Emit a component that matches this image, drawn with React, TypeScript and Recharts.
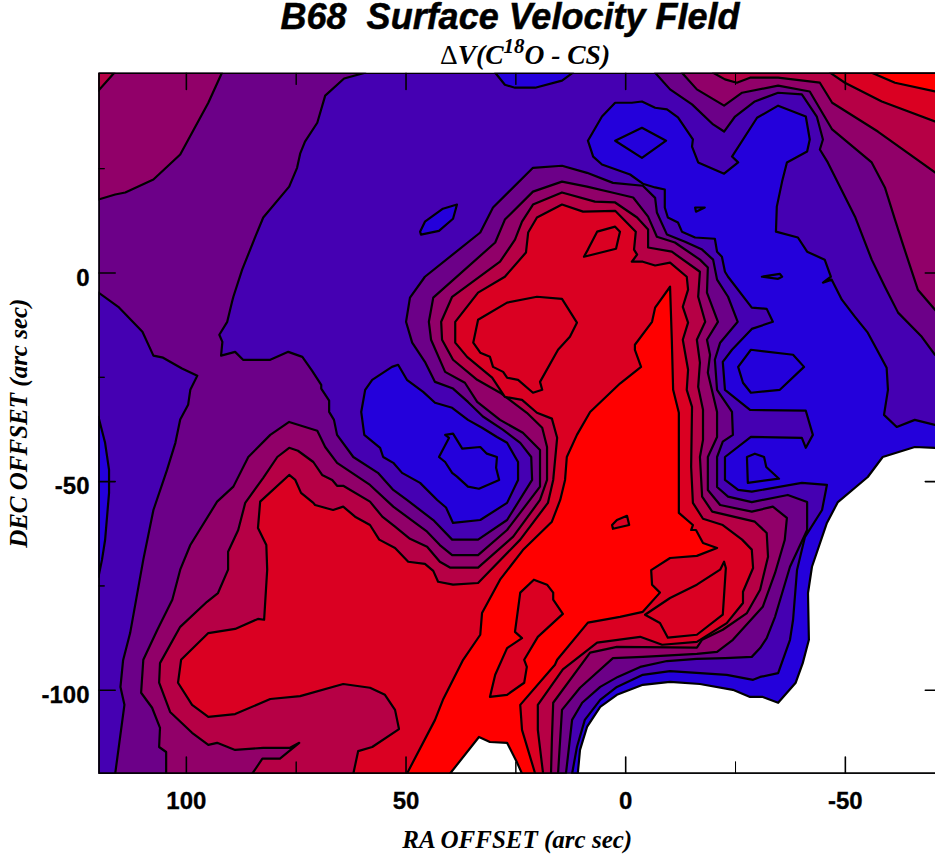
import { Scatter, ScatterChart, XAxis, YAxis } from "recharts";

type Pt = [number, number]; // [RA offset, DEC offset] in arc sec

const RA_TICKS = [100, 50, 0, -50];
const RA_MINOR = [75, 25, -25];
const DEC_TICKS = [0, -50, -100];
const DEC_MINOR = [25, -25, -75];

const LEVEL_COLORS = ["#2400db", "#4500b2", "#6c0088", "#910069", "#b60045", "#da0022", "#ff0000"];

const PLOT_AREA: Pt[] = [[120, 48], [-72, 48], [-72, -120], [120, -120]];

// contours
const L1_EAST: Pt[] = [
  [12.2,-120],[11.1,-113.6],[9.3,-107.1],[5.8,-102.3],[2,-99.2],[-3.9,-96.3],[-10.1,-95.4],[-23,-96.3],[-29,-97.5],[-30.6,-96.8],
  [-34.7,-95.9],[-37.4,-87.9],[-38.1,-83.1],[-39,-71.2],[-40.8,-63.3],[-44.7,-56.8],[-45.8,-50.8],[-40.1,-50.3],[-28.7,-52.4],[-25.6,-52],
  [-22.6,-49.6],[-22.6,-44.1],[-28.5,-39.3],[-40.1,-39.5],[-41,-41.9],[-42.6,-38.8],[-41,-33],[-28.3,-32.8],[-22.6,-28],[-22.1,-21.3],
  [-24.2,-18.4],[-28.7,-13.4],[-33.5,-11.7],[-32.1,-8.6],[-28.7,-8.3],[-23.3,-0.9],[-22.6,0.3],[-21.9,3.9],[-20.8,5.1],[-20.3,8.2],
  [-15.8,8.5],[-12.8,9.9],[-11.9,12.1],[-9.6,13.3],[-8.9,15.7],[-8.9,20],[-6.7,20.5],[-3.9,21.4],[-1,23.6],[5.4,26],
  [7.4,27.9],[8.6,31.7],[5.4,37.5],[2.4,40.8],[-1.4,40.8],[-3.7,41.1],[-6.7,39.6],[-9.4,39.2],[-11.9,37.3],[-15.3,32],
  [-15.1,30.3],[-16.5,26.5],[-22.4,23.8],[-25.6,26.5],[-24.2,27.9],[-29.9,37.2],[-34.7,40.1],[-41,37.5],[-41.9,32],[-41.3,29.1],
  [-36.7,26.5],[-35.6,21.9],[-34.4,15.9],[-34.2,9.9],[-39.2,8.5],[-41.3,5.1],[-45.3,3.2],[-46.7,-0.9],[-44.9,-2.3],[-46.9,-1.6],
  [-49.2,-6.4],[-52.2,-10.5],[-55.1,-14.3],[-57.2,-18.4],[-59.4,-22.7],[-59.7,-28],[-58.8,-34],[-61.7,-36.9],[-65.8,-35.2],[-70.4,-36.4],
  [-72,-36.6],[-72,-120],
];
const L1_TOP: Pt[] = [[29.7,48],[27.5,45.1],[25.2,44.4],[20.6,44.4],[14.5,46.1],[12,48]];
const L1_NW_SPOT: Pt[] = [[38.4,16.4],[41.6,15.4],[45.7,12.3],[46.8,9.9],[46.6,9.2],[42.5,10.1],[39.3,13]];
const L1_TONGUE: Pt[] = [
  [51.8,-22],[53.2,-22.5],[57.7,-25.6],[59.3,-28],[60.2,-33.3],[59.5,-38.8],[55.9,-41.9],[55.2,-44.1],[52.9,-45.5],[50.9,-47.9],
  [46.8,-50.3],[42.9,-54.4],[40.9,-56.2],[39.3,-59.9],[33.1,-59.2],[27,-55.1],[24.5,-49.6],[24.5,-45.3],[27,-40.7],[29.3,-39.3],
  [32.7,-37.1],[35.9,-35.2],[39.5,-32.3],[43.4,-31.1],[46.1,-28.5],[49.8,-25.6],
];
const L1_INNER: Pt[] = [
  [41.1,-38.8],[39.3,-38.5],[37.2,-42.1],[33.1,-41.7],[31.6,-43.3],[29.3,-44.1],[29.5,-46.7],[28.8,-49.6],[33.4,-51.7],[35.9,-51.2],
  [38.4,-48.8],[39.5,-47.9],[41.1,-45.3],[42.5,-44.1],[40.2,-39.5],
];
const L1_DIAMOND: Pt[] = [[2.4,31.7],[-3.7,34.8],[-9.2,31.7],[-3.7,27.6]];
const L1_EAST_OVAL: Pt[] = [[-28.5,-18.4],[-38.1,-19.6],[-40.6,-22.5],[-35.1,-28],[-28.5,-28.7],[-26.7,-26.3],[-25.6,-22.5]];
const L1_EAST_SPOT: Pt[] = [[-27.6,-44.1],[-29.4,-43.3],[-31.5,-44.1],[-32,-46.5],[-34.9,-49.3],[-27.8,-50.3]];
const L1_SPECK_A: Pt[] = [[-15.8,15.7],[-18,15.7],[-16,14.7]];
const L1_SPECK_B: Pt[] = [[-31,-0.9],[-35.1,-0.2],[-35.6,-0.9],[-34.7,-1.4]];

const L3_MAIN: Pt[] = [
  [59.3,48],[64.1,46.6],[68.4,42.5],[70.2,36],[73,31.5],[74.1,28.6],[74.8,25.2],[76.6,20.7],[82.5,13.3],[84.3,8.7],
  [87.3,0.8],[89.3,-5.7],[89.6,-6.9],[90.7,-11.7],[92.5,-14.8],[91.8,-16.5],[92.1,-19.8],[88.9,-18.9],[87.1,-20.8],[80.9,-20.8],
  [76.8,-18.9],[73.6,-20.1],[71.4,-23.4],[69.3,-26.8],[69.3,-27.7],[67.5,-30.6],[67.5,-33.3],[66.4,-35.2],[65.7,-38.8],[62,-44.1],
  [56.4,-47.9],[52.9,-52],[49.8,-54.4],[43.8,-59.2],[39.5,-63.9],[33.6,-63.9],[27,-59.2],[21.3,-49.6],[21.5,-44.1],[24,-40.7],
  [27.9,-37.6],[32.5,-34.4],[35.9,-30.9],[39.3,-27.7],[43.4,-26.1],[45.7,-21.3],[48.6,-16.7],[50,-11.7],[49.1,-5.9],[45.7,-0.9],
  [33.1,9.7],[30.2,15.7],[21.1,25.2],[14.5,25.7],[8.8,24],[2.9,21.6],[-3.9,20.9],[-6.7,18],[-7.1,14.5],[-9.4,9.2],
  [-13.5,7.5],[-17.4,5.6],[-19.9,3.2],[-20.8,-1.6],[-23.3,-5.7],[-25.5,-11.7],[-21.5,-16.7],[-20.3,-20.8],[-20.8,-28],[-24.2,-33.3],
  [-24.4,-38.8],[-22.1,-40.4],[-20.8,-44.1],[-20.8,-51.3],[-23.3,-53.6],[-28.7,-54.9],[-36.9,-53.2],[-41.3,-54.9],[-41.3,-61.6],[-37.4,-70.4],
  [-34,-82.4],[-32.1,-87.5],[-30.6,-89.9],[-28.7,-92],[-22.6,-92.3],[-16.2,-92.5],[-9.4,-93],[-3.3,-94.4],[1.8,-96.8],[5.8,-99.2],
  [9.9,-103],[12.2,-107.1],[13.6,-120],[120,-120],[120,48],
];
const L2_WEST: Pt[] = [
  [120,-4.7],[115.5,-8.1],[110,-14.1],[107.5,-19.8],[105.3,-20.3],[101,-22.9],[97.5,-24.6],[99.1,-28],[99.6,-31.6],[101.4,-35.1],
  [102.5,-40.7],[104.4,-47.2],[107.5,-56.8],[109.8,-68.7],[112.8,-86.3],[114.4,-92.8],[115,-99.2],[114.1,-103.5],[116.2,-120],[120,-120],
];
const L1_WEST: Pt[] = [[120,-34.5],[118.5,-40.7],[117.6,-47.2],[117.6,-52.7],[118.5,-64],[119.2,-68.7],[120,-72.8]];

const L3_NE: Pt[] = [
  [-6.7,48],[-10.1,44],[-15.1,40.4],[-19.9,35.6],[-22.4,33.9],[-24.9,37.5],[-29.4,41.1],[-34.7,43.2],[-40.1,42.8],[-43.5,37.5],
  [-44.9,32],[-44.2,29.6],[-46,26.5],[-52.2,13.5],[-56,3.2],[-59,-3.3],[-62,-9.5],[-67.4,-15.3],[-70.4,-19.6],[-72,-21.2],[-72,48],
];
const L4_NE: Pt[] = [
  [-12.8,48],[-16.2,44],[-22.4,40.1],[-26.5,43.2],[-34.7,44.9],[-41.9,43.5],[-47,34.4],[-56,26.5],[-59,20.5],[-61.3,12.8],
  [-62.9,7.5],[-66.5,-4],[-70.4,-8.8],[-72,-10.7],[-72,48],
];
const L5_NE: Pt[] = [[-19.9,48],[-22.6,46.4],[-25.3,45.6],[-28.3,46.8],[-34.7,46.8],[-44.2,45.6],[-47,40.8],[-57.4,33.9],[-70.4,24.1],[-72,22.9],[-72,48]];
const L6_NE: Pt[] = [[-46.5,48],[-49.9,45.6],[-58.3,41.1],[-70.4,36.3],[-72,35.8],[-72,48]];
const L7_NE: Pt[] = [[-56,48],[-61.3,45.6],[-70.4,43.5],[-72,43.2],[-72,48]];
const L4_NW: Pt[] = [[120,17.6],[116.2,18.8],[113.9,19.3],[107.5,22.4],[101.4,28.4],[95,40.8],[91.9,48],[120,48]];
const L5_NW: Pt[] = [[120,43.7],[116.4,48],[120,48]];

const L4_MAIN: Pt[] = [
  [104.6,-120],[104.6,-114.8],[106.2,-113.6],[106,-109],[107.8,-104.2],[110.3,-100.6],[109.8,-92.7],[106.6,-85.5],[103.2,-78.3],[101.4,-71.1],
  [99.1,-65.2],[93,-54.8],[89.3,-51.2],[85.9,-44.1],[80.9,-38.8],[76.6,-35.7],[70.2,-37.8],[68.4,-41.7],[65.7,-45.5],[58.2,-50.8],
  [52.9,-56],[45.2,-62],[42.3,-65.2],[39.5,-67.6],[33.6,-67.6],[27,-61.6],[19.5,-51.2],[19.5,-46.5],[19.5,-42.4],[23.4,-38.3],
  [28.6,-35.2],[33.8,-30.9],[36.6,-26.3],[41.1,-23.7],[44.3,-16],[44.8,-11.7],[43.8,-5.9],[29.7,7.3],[27.5,12.8],[21.1,19.5],
  [14.5,21.9],[8.8,20.7],[3.1,19.3],[-1.7,18.1],[-5.1,13.5],[-7.1,8.7],[-11.2,7.3],[-16.9,3.2],[-18.7,1.3],[-18.5,-4.7],
  [-21,-11.7],[-18.5,-16],[-19.2,-19.6],[-18.7,-23.9],[-20.8,-33.3],[-20.8,-39.3],[-18.7,-44.1],[-18.7,-52],[-21.5,-55.6],[-28.7,-57.2],
  [-33.5,-56],[-36.7,-58.7],[-36.2,-64],[-34,-71.9],[-31.2,-80],[-24.4,-87.9],[-20.8,-90.8],[-16.2,-91.3],[-3.9,-92],[2.9,-92.3],
  [10.4,-99.4],[14.5,-104.7],[15.4,-120],
];
const L5_MAIN: Pt[] = [
  [90.5,-68.7],[90.5,-66.8],[88.2,-61.6],[86.6,-55.1],[82.5,-49.1],[79.3,-44.1],[76.6,-41.9],[74.6,-42.6],[71.1,-45.3],[69.1,-48.4],
  [66.8,-49.6],[65.7,-51],[64.3,-51],[58.2,-54.8],[55.4,-58.4],[52.5,-60.8],[49.1,-63.7],[45.2,-65.6],[42.3,-69.2],[40,-70.6],
  [33.6,-70.6],[25.6,-63.2],[19.5,-54.4],[17.9,-49.6],[17.9,-41.7],[19,-37.1],[22.5,-33.5],[28.6,-28.7],[33.8,-25.6],[39.3,-20.8],
  [41.8,-16],[42,-11.7],[39.5,-5.7],[28.6,2.7],[25.2,8],[23.6,12.3],[21.1,16.4],[14.5,19.3],[7,17.1],[2.4,16.9],
  [-2.6,13.3],[-5.1,10.4],[-5.1,6.1],[-10.5,5.1],[-16.9,0.3],[-16.5,-5.7],[-18.1,-11.7],[-16.2,-16],[-16.9,-21.5],[-16.5,-27.3],
  [-17.6,-32.8],[-17.6,-40],[-16.9,-44.1],[-17.4,-53.6],[-19.7,-57.2],[-29.4,-59.6],[-32.1,-62.3],[-32.4,-68],[-30.6,-75.9],[-27.6,-81.5],
  [-22.1,-85.5],[-17.4,-87.9],[-16.2,-89.8],[2,-89.6],[8.1,-91],[16.5,-103],[16.8,-111.9],[17,-120],[85,-120],[82.7,-116.4],
  [78.7,-116.4],[74.3,-112.6],[76.4,-113.8],[82.5,-113.8],[88.9,-114.3],[93,-112.6],[95,-113.1],[98.7,-110.2],[103.7,-105.2],[106.2,-98.2],
  [106,-93.5],[101.4,-84.8],[95.3,-78.8],[92.8,-76.7],[90.5,-71.1],
];
const L6_MAIN: Pt[] = [
  [62,-120],[60.9,-114.6],[57.7,-113.6],[51.6,-109.3],[52.5,-104.7],[54.8,-101.1],[58.2,-99.4],[64.3,-98.5],[74.1,-101.4],[80.9,-102.1],
  [88.9,-105.7],[95,-106.4],[98.7,-103.5],[101.9,-98.2],[101.2,-92.7],[95,-86.3],[88.9,-85.3],[83.7,-82.9],[82.3,-83.1],[81.6,-71.1],
  [81.8,-65.2],[83.7,-61.1],[83.2,-54.8],[76.6,-48.4],[75.2,-49.6],[73.9,-52.7],[71.1,-55.1],[70.7,-55.6],[66.6,-56.8],[64.3,-56],
  [61.6,-58.4],[58.2,-60.4],[56.1,-63.9],[52.5,-65.9],[49.5,-69.2],[45.7,-69.7],[43.8,-71.4],[42.7,-74],[39.3,-74.7],[33.6,-74.3],
  [32.5,-73.1],[24,-63.9],[17.7,-55.1],[16.5,-49.6],[15.6,-39.5],[16.8,-34.9],[20.2,-33.5],[23.6,-30.4],[27.5,-29.7],[30.4,-25.1],
  [36.1,-20.1],[38.8,-16.7],[38.8,-11.7],[33.6,-4.7],[27.5,-0.9],[22.7,4.9],[22.2,9.7],[20.2,13.3],[14.5,16.4],[9.7,14.7],
  [2.4,14.9],[-2.3,9.9],[-1.9,5.6],[-2.6,4.4],[-1.4,2.7],[-3.9,2.7],[-6.7,1.8],[-10.1,2.5],[-13.9,-0.9],[-14.2,-4],
  [-13,-8.1],[-14.2,-11.9],[-13,-16],[-14.2,-23.2],[-13.9,-28],[-15.1,-32.1],[-14.9,-46.5],[-15.3,-55.1],[-17.6,-58.9],[-22.1,-60.4],
  [-26.5,-63.9],[-28.7,-66.3],[-29,-70.7],[-26.7,-76.4],[-26.7,-79.1],[-23,-83.9],[-16.2,-88.4],[-8.3,-89.1],[-3.3,-87.2],[6.5,-88.6],
  [14.3,-95],[20,-103.5],[20,-109.5],[18.8,-120],
];
const L6_NORTH_A: Pt[] = [
  [33.6,-11.2],[27,-7.1],[20.2,-5.7],[14.5,-6.2],[11.1,-11.9],[12.7,-15.3],[15.4,-18.4],[19.5,-26.1],[19,-28],[21.1,-28.7],
  [24.5,-25.6],[27,-25.1],[27.9,-23.7],[30.2,-22.5],[30.9,-20.1],[33.1,-19.1],[34.7,-16.7],
];
const L6_NORTH_B: Pt[] = [[6.5,9.9],[2.4,11.1],[1.3,9.9],[2.2,5.8],[9.5,3.9],[8.6,5.6]];
const L7_MAIN: Pt[] = [
  [49.8,-120],[43.4,-107.1],[41.6,-102.3],[37,-92.7],[33.1,-86.7],[32.7,-81.5],[28.6,-73.5],[23.4,-66.4],[16.8,-59.6],[14.9,-54.4],
  [13.8,-49.6],[13.4,-44.1],[11.1,-38.8],[8.1,-33.3],[1.3,-26.5],[-3.5,-22.5],[-2.1,-18.4],[-2.1,-17.2],[-6,-11.7],[-6.7,-8.3],
  [-10.1,-3.3],[-10.5,-16],[-10.8,-28],[-12.1,-33.5],[-12.1,-57.5],[-15.3,-60.4],[-14.9,-61.6],[-16,-61.6],[-17.6,-64.7],[-20.8,-65.9],
  [-16.2,-67.8],[-10.1,-68.3],[-5.8,-71.2],[-6,-74.7],[-7.8,-76.6],[-3.9,-81.2],[1.3,-82.4],[8.6,-83.8],[15.6,-92.7],[16.1,-93.9],
  [24,-103.5],[23.6,-109.5],[20.6,-120],
];
const L6_SOUTH_A: Pt[] = [
  [20.9,-73.5],[17.9,-74.7],[16.5,-76.6],[16.5,-78.3],[14.3,-81.7],[20,-87.2],[23.1,-92.7],[22.5,-94.4],[23.1,-98.2],[27,-101.1],
  [30.9,-101.6],[29.7,-96.3],[27,-89.9],[23.6,-87.5],[25.2,-86],[24,-76.6],
];
const L6_SOUTH_B: Pt[] = [[3.1,-60.4],[2,-59.2],[-0.3,-58.2],[-0.8,-60.4],[2.9,-61.3]];
const L6_SOUTH_C: Pt[] = [[-4.4,-81.9],[-10.1,-77.9],[-16.2,-74.7],[-21.5,-71.1],[-22.4,-69.2],[-22.8,-70.7],[-22.1,-81.9],[-16.2,-86.7],[-9.6,-87.4],[-7.8,-83.9]];

const BLANK_EAST: Pt[] = [
  [-72,-42.1],[-70.4,-41.9],[-65.8,-41.7],[-58.5,-44.1],[-55.1,-48.9],[-48.3,-54.9],[-45.8,-59.9],[-42.4,-70.4],[-41.5,-76.7],[-41.7,-87.9],
  [-40.3,-93.5],[-38.7,-98.2],[-34.7,-103],[-31.2,-101.6],[-28.3,-101.6],[-24.4,-99.9],[-16.9,-98.5],[-10.1,-98],[-3.9,-98.7],[2,-101.1],
  [5.8,-104],[8.8,-108.8],[10.4,-114.3],[10.9,-120],[-72,-120],
];
const BLANK_SOUTH: Pt[] = [[40,-120],[33.4,-111.2],[30.9,-112.4],[27,-112.6],[24.7,-117.4],[23.6,-120]];

// painted back to front
const LAYERS: [Pt[], string][] = [
  [L1_EAST, LEVEL_COLORS[0]], [L1_TOP, LEVEL_COLORS[0]], [L1_NW_SPOT, LEVEL_COLORS[0]], [L1_TONGUE, LEVEL_COLORS[0]], [L1_INNER, LEVEL_COLORS[0]],
  [L1_DIAMOND, LEVEL_COLORS[0]], [L1_EAST_OVAL, LEVEL_COLORS[0]], [L1_EAST_SPOT, LEVEL_COLORS[0]], [L1_SPECK_A, LEVEL_COLORS[0]], [L1_SPECK_B, LEVEL_COLORS[0]],
  [L3_MAIN, LEVEL_COLORS[2]], [L2_WEST, LEVEL_COLORS[1]], [L1_WEST, LEVEL_COLORS[0]],
  [L3_NE, LEVEL_COLORS[2]], [L4_NE, LEVEL_COLORS[3]], [L5_NE, LEVEL_COLORS[4]], [L6_NE, LEVEL_COLORS[5]], [L7_NE, LEVEL_COLORS[6]],
  [L4_NW, LEVEL_COLORS[3]], [L5_NW, LEVEL_COLORS[4]],
  [L4_MAIN, LEVEL_COLORS[3]], [L5_MAIN, LEVEL_COLORS[4]], [L6_MAIN, LEVEL_COLORS[5]],
  [L6_NORTH_A, LEVEL_COLORS[5]], [L6_NORTH_B, LEVEL_COLORS[5]],
  [L7_MAIN, LEVEL_COLORS[6]], [L6_SOUTH_A, LEVEL_COLORS[5]], [L6_SOUTH_B, LEVEL_COLORS[5]], [L6_SOUTH_C, LEVEL_COLORS[5]],
  [BLANK_EAST, "#ffffff"], [BLANK_SOUTH, "#ffffff"],
];

// inward tick marks, as [from, to] pairs in arc sec
const TICK_MARKS: [Pt[], number][] = [
  ...RA_TICKS.map((ra): [Pt[], number] => [[[ra, -120], [ra, -116]], 1.6]),
  ...RA_TICKS.map((ra): [Pt[], number] => [[[ra, 48], [ra, 44]], 1.6]),
  ...RA_MINOR.map((ra): [Pt[], number] => [[[ra, -120], [ra, -117.1]], 1]),
  ...RA_MINOR.map((ra): [Pt[], number] => [[[ra, 48], [ra, 45.1]], 1]),
  ...DEC_TICKS.map((dec): [Pt[], number] => [[[120, dec], [116.2, dec]], 1.6]),
  ...DEC_TICKS.map((dec): [Pt[], number] => [[[-72, dec], [-68.2, dec]], 1.6]),
  ...DEC_MINOR.map((dec): [Pt[], number] => [[[120, dec], [118.6, dec]], 1]),
];

const SERIF = "'Liberation Serif', serif";
const SANS = "'Liberation Sans', sans-serif";
const axisLabel = { fontFamily: SERIF, fontWeight: "bold", fontStyle: "italic", fontSize: 25, fill: "#000" };
const tickFont = { fontFamily: SANS, fontWeight: "bold", fontSize: 24, fill: "#000", stroke: "#000", strokeWidth: 0.3 };

const noDot = () => <g />;

// Scatter hands its scaled points to the line renderer, closed and filled here
const contour = (fill: string, stroke = "#000", width = 2.2) => (props: any) => {
  const d = props.points.map((p: any, i: number) => `${i ? "L" : "M"}${p.x},${p.y}`).join(" ") + " Z";
  return <path d={d} fill={fill} stroke={stroke} strokeWidth={width} strokeLinejoin="round" />;
};

const rows = (pts: Pt[]) => pts.map(([ra, dec]) => ({ ra, dec }));

export default function App() {
  return (
    <div style={{ position: "absolute", left: 0, top: 0, width: 935, height: 858, overflow: "hidden", background: "#fff" }}>
      <div style={{ position: "absolute", left: 0, width: 1020, top: 0, textAlign: "center", whiteSpace: "pre", color: "#000",
        fontFamily: SANS, fontWeight: "bold", fontStyle: "italic", fontSize: 36, lineHeight: "34px", WebkitTextStroke: "0.5px #000" }}>
        {"B68  Surface Velocity FIeld"}
      </div>
      <div style={{ position: "absolute", left: 0, width: 1050, top: 39, textAlign: "center", whiteSpace: "pre", color: "#000",
        fontFamily: SERIF, fontWeight: "bold", fontStyle: "italic", fontSize: 27.5, lineHeight: "32px" }}>
        <span style={{ fontStyle: "normal", fontWeight: "normal" }}>Δ</span>V(C
        <sup style={{ fontSize: 21, lineHeight: 0, verticalAlign: 11 }}>18</sup>O - CS)
      </div>
      <ScatterChart width={960} height={858} margin={{ top: 0, right: 18, bottom: 0, left: 0 }}>
        <XAxis
          dataKey="ra"
          type="number"
          reversed
          domain={[-72, 120]}
          allowDataOverflow
          ticks={RA_TICKS}
          tick={tickFont}
          tickLine={false}
          tickSize={0}
          tickMargin={18}
          height={84.3}
          axisLine={false}
          interval={0}
          label={{ value: "RA OFFSET (arc sec)", position: "insideBottom", offset: 10, dx: -3, style: axisLabel }}
        />
        <XAxis xAxisId="top" orientation="top" type="number" reversed domain={[-72, 120]} tick={false} tickLine={false} height={72.7} axisLine={false} />
        <YAxis
          dataKey="dec"
          type="number"
          domain={[-120, 48]}
          allowDataOverflow
          ticks={DEC_TICKS}
          tick={{ ...tickFont, dy: 4 }}
          tickLine={false}
          tickSize={0}
          tickMargin={9}
          width={98.5}
          axisLine={false}
          interval={0}
          label={{ value: "DEC OFFSET (arc sec)", angle: -90, position: "insideLeft", offset: 15, dx: 3, style: { ...axisLabel, textAnchor: "middle" } }}
        />
        <Scatter data={rows(PLOT_AREA)} line={contour(LEVEL_COLORS[1], "none")} shape={noDot} isAnimationActive={false} />
        {LAYERS.map(([pts, fill], i) => (
          <Scatter key={i} data={rows(pts)} line={contour(fill)} shape={noDot} isAnimationActive={false} />
        ))}
        <Scatter data={rows(PLOT_AREA)} line={contour("none", "#000", 2.6)} shape={noDot} isAnimationActive={false} />
        {TICK_MARKS.map(([pts, width], i) => (
          <Scatter key={`t${i}`} data={rows(pts)} line={contour("none", "#000", width)} shape={noDot} isAnimationActive={false} />
        ))}
      </ScatterChart>
    </div>
  );
}
